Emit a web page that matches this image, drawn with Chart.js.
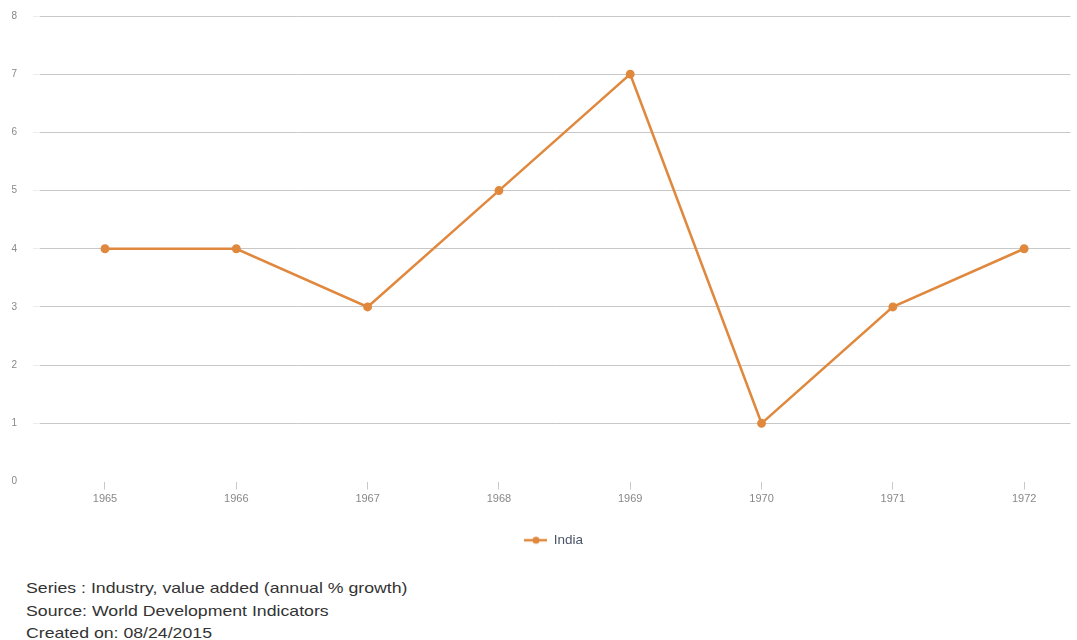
<!DOCTYPE html>
<html>
<head>
<meta charset="utf-8">
<script src="https://cdn.jsdelivr.net/npm/chart.js@4.4.1/dist/chart.umd.min.js"></script>
<style>
  body { margin: 0; background: #fff; width: 1077px; height: 640px; overflow: hidden; position: relative; }
  #wrap { position: absolute; left: 0; top: 0; width: 1077px; height: 560px; }
  .note { position: absolute; left: 26px; font-family: "Liberation Sans", Arial, sans-serif; font-size: 15px; color: #333;
          transform: scaleX(1.18); transform-origin: left center; white-space: nowrap; }
</style>
</head>
<body>
<div id="wrap"><canvas id="chart"></canvas></div>
<div class="note" style="top:579px">Series : Industry, value added (annual % growth)</div>
<div class="note" style="top:602px">Source: World Development Indicators</div>
<div class="note" style="top:624px">Created on: 08/24/2015</div>
<script>
const years = [1965, 1966, 1967, 1968, 1969, 1970, 1971, 1972];
const india = [4, 4, 3, 5, 7, 1, 3, 4];
const yTicks = [0, 1, 2, 3, 4, 5, 6, 7, 8];

const lineColor = '#e0883d';

// legend marker: short line with a dot; transparent margin on the left nudges the item right
const marker = document.createElement('canvas');
marker.width = 53; marker.height = 10;
const mctx = marker.getContext('2d');
mctx.strokeStyle = lineColor; mctx.lineWidth = 2.5;
mctx.beginPath(); mctx.moveTo(30, 5); mctx.lineTo(53, 5); mctx.stroke();
mctx.fillStyle = lineColor;
mctx.beginPath(); mctx.arc(42, 5, 3.5, 0, Math.PI * 2); mctx.fill();

new Chart(document.getElementById('chart'), {
  type: 'line',
  data: {
    datasets: [{
      label: 'India',
      data: years.map((y, i) => ({ x: y, y: india[i] })),
      borderColor: lineColor,
      backgroundColor: lineColor,
      borderWidth: 2.5,
      pointRadius: 3.2,
      pointHoverRadius: 4,
      tension: 0
    }]
  },
  options: {
    responsive: true,
    maintainAspectRatio: false,
    animation: false,
    layout: { padding: { top: 16, right: 0, bottom: 3, left: 0 } },
    plugins: {
      tooltip: { enabled: false },
      legend: {
        position: 'bottom',
        labels: {
          usePointStyle: true,
          pointStyleWidth: 53,
          padding: 10,
          color: '#4a5566',
          font: { family: '"Liberation Sans", Arial, sans-serif', size: 13.5 },
          generateLabels: chart => chart.data.datasets.map((ds, i) => ({
            text: ds.label, pointStyle: marker, datasetIndex: i,
            fontColor: '#4a5566', lineWidth: 0, strokeStyle: 'transparent', fillStyle: 'transparent'
          }))
        }
      }
    },
    scales: {
      x: {
        type: 'linear',
        min: 1964.505,
        max: 1972.353,
        afterBuildTicks: axis => { axis.ticks = years.map(v => ({ value: v })); },
        afterFit: axis => { axis.height = 42; },
        border: { display: false },
        grid: { drawOnChartArea: false, drawTicks: true, tickLength: 8, color: '#c8c8c8' },
        ticks: {
          padding: 3,
          color: '#888',
          font: { family: '"Liberation Sans", Arial, sans-serif', size: 11 },
          callback: v => String(v)
        }
      },
      y: {
        min: 0,
        max: 8,
        afterBuildTicks: axis => { axis.ticks = yTicks.map(v => ({ value: v })); },
        afterFit: axis => { axis.width = 40; axis.paddingTop = 0; axis.paddingBottom = 0; },
        border: { display: false },
        grid: {
          color: ctx => ctx.tick && ctx.tick.value === 0 ? 'rgba(0,0,0,0)' : '#c8c8c8',
          tickColor: ctx => ctx.tick && ctx.tick.value === 0 ? 'rgba(0,0,0,0)' : '#ececec',
          tickLength: 7,
          lineWidth: 1
        },
        ticks: {
          padding: 16,
          color: '#888',
          font: { family: '"Liberation Sans", Arial, sans-serif', size: 10 }
        }
      }
    }
  }
});
</script>
</body>
</html>
